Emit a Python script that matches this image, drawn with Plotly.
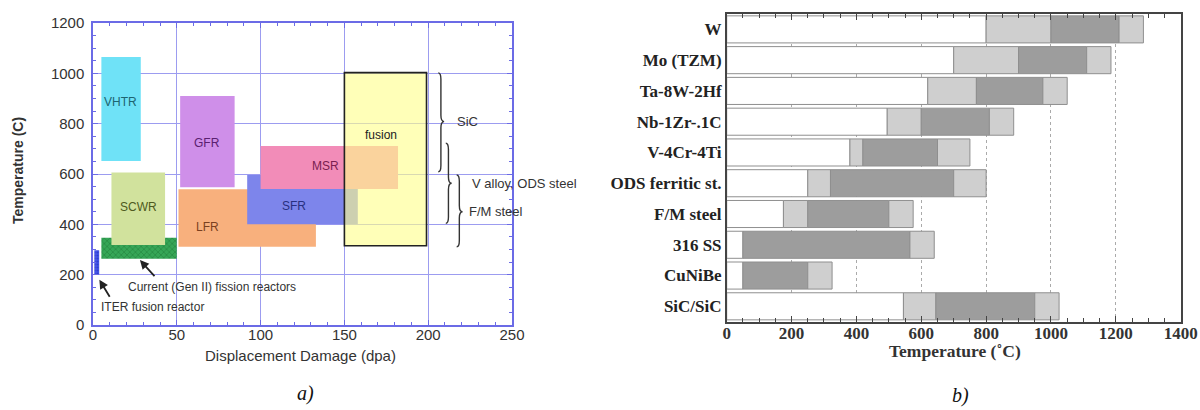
import plotly.graph_objects as go

# ---------------- (a) reactor operating windows ----------------
reactors = ["Gen II", "ITER", "VHTR", "SCWR", "GFR", "LFR", "SFR", "MSR", "fusion"]
dpa_lo = [5, 0.8, 5, 11, 52, 51, 92, 100, 150]
dpa_hi = [50, 3.7, 28.5, 43, 84.5, 133, 158, 182, 199]
temp_lo = [263, 200, 652, 318, 547, 311, 400, 540, 315]
temp_hi = [347, 297, 1065, 606, 910, 539, 596, 711, 1003]
fill_colors = ["#2f9b4f", "#3a48e0", "#6fe2f7", "#d1e29d", "#cf8fe9",
               "#f8b07d", "#7d85eb", "#f28cb8", "rgba(255,255,140,0.62)"]

box_labels = ["VHTR", "GFR", "SCWR", "LFR", "SFR", "MSR", "fusion"]
box_label_x = [16.5, 68, 27, 68.5, 120, 139, 172]
box_label_y = [885, 725, 470, 390, 473, 633, 755]
box_label_colors = ["#1d6470", "#5a2070", "#4e5a20", "#7a4020", "#283080", "#7a2050", "#222222"]

brace_names = ["SiC", "V alloy, ODS steel", "F/M steel"]
brace_x = [206, 210.5, 217]
brace_tip_x = [209.5, 214, 220.5]
brace_lo = [609, 404, 311]
brace_hi = [1002, 722, 596]
brace_tip = [808, 563, 450]
brace_text_x = [216, 225, 223]

# ---------------- (b) material temperature windows ----------------
materials = ["W", "Mo (TZM)", "Ta-8W-2Hf", "Nb-1Zr-.1C", "V-4Cr-4Ti",
             "ODS ferritic st.", "F/M steel", "316 SS", "CuNiBe", "SiC/SiC"]
white_end = [800, 700, 620, 495, 380, 250, 175, 50, 50, 545]
light1_end = [1000, 900, 770, 600, 420, 320, 250, 50, 50, 645]
dark_end = [1210, 1110, 975, 810, 650, 700, 500, 565, 250, 950]
light2_end = [1285, 1185, 1050, 885, 750, 800, 575, 640, 325, 1025]

fig = go.Figure()

# left rectangles as bars with explicit base
for i, name in enumerate(reactors):
    pattern = None
    if name == "Gen II":
        pattern = dict(shape="x", fgcolor="#17702f", bgcolor="#36a657", size=4, solidity=0.35)
    elif name == "ITER":
        pattern = dict(shape=".", fgcolor="#1c2aa8", bgcolor="#4454ea", size=3, solidity=0.4)
    line = dict(width=1.6, color="#222222") if name == "fusion" else dict(width=0)
    fig.add_trace(go.Bar(
        x=[(dpa_lo[i] + dpa_hi[i]) / 2], y=[temp_hi[i] - temp_lo[i]], base=[temp_lo[i]],
        width=[dpa_hi[i] - dpa_lo[i]],
        marker=dict(color=fill_colors[i], line=line, pattern=pattern),
        xaxis="x", yaxis="y", name=name, hoverinfo="skip"))

# right stacked segments
def seg(a, b):
    return [(bb - aa) if bb - aa > 0 else None for aa, bb in zip(a, b)]

segments = [
    ([0] * len(materials), seg([0] * len(materials), white_end), "#ffffff"),
    (white_end, seg(white_end, light1_end), "#cfcfcf"),
    (light1_end, seg(light1_end, dark_end), "#9d9d9d"),
    (dark_end, seg(dark_end, light2_end), "#cfcfcf"),
]
for base, length, col in segments:
    fig.add_trace(go.Bar(
        y=materials, x=length, base=base, orientation="h", width=0.88,
        marker=dict(color=col, line=dict(color="#8f8f8f", width=1)),
        xaxis="x2", yaxis="y2", hoverinfo="skip"))

annotations = []
for t, x, y, c in zip(box_labels, box_label_x, box_label_y, box_label_colors):
    annotations.append(dict(x=x, y=y, xref="x", yref="y", text=t, showarrow=False,
                            font=dict(family="Liberation Sans", size=12, color=c)))

# pointer annotations
annotations.append(dict(x=71, y=152, xref="x", yref="y", text="Current (Gen II) fission reactors",
                        showarrow=False, font=dict(family="Liberation Sans", size=12, color="#333")))
annotations.append(dict(x=28, y=258, ax=37.5, ay=188, xref="x", yref="y", axref="x", ayref="y",
                        text="", showarrow=True, arrowhead=2, arrowsize=1, arrowwidth=1.8,
                        arrowcolor="#222"))
annotations.append(dict(x=3.5, y=70, xref="x", yref="y", text="ITER fusion reactor",
                        showarrow=False, xanchor="left",
                        font=dict(family="Liberation Sans", size=12, color="#333")))
annotations.append(dict(x=3.8, y=180, ax=10.5, ay=106, xref="x", yref="y", axref="x", ayref="y",
                        text="", showarrow=True, arrowhead=2, arrowsize=1, arrowwidth=1.8,
                        arrowcolor="#222"))

for t, x, y in zip(brace_names, brace_text_x, brace_tip):
    annotations.append(dict(x=x, y=y, xref="x", yref="y", text=t, showarrow=False,
                            xanchor="left", font=dict(family="Liberation Sans", size=13, color="#333")))

# axis titles and panel letters (paper coordinates, explicit centre anchors)
def paper_text(px, py, text, font, angle=0):
    return dict(x=px / 1200, y=1 - py / 410, xref="paper", yref="paper", text=text,
                xanchor="center", yanchor="middle", textangle=angle, showarrow=False, font=font)

annotations += [
    paper_text(300, 355, "Displacement Damage (dpa)",
               dict(family="Liberation Sans", size=15, color="#333")),
    paper_text(18, 171, "<b>Temperature (C)</b>",
               dict(family="Liberation Sans", size=14, color="#333"), angle=-90),
    paper_text(955, 351, "<b>Temperature (˚C)</b>",
               dict(family="Liberation Serif", size=17.5, color="#333")),
    paper_text(305, 393, "<i>a)</i>", dict(family="Liberation Serif", size=20, color="#111")),
    paper_text(960, 395, "<i>b)</i>", dict(family="Liberation Serif", size=20, color="#111")),
]

shapes = []
for x0, xt, lo, hi, tip in zip(brace_x, brace_tip_x, brace_lo, brace_hi, brace_tip):
    xm = x0 + (xt - x0) * 0.45
    r = 25
    path = (f"M {x0},{hi} Q {xm},{hi} {xm},{hi - r} L {xm},{tip + r} "
            f"Q {xm},{tip} {xt},{tip} Q {xm},{tip} {xm},{tip - r} "
            f"L {xm},{lo + r} Q {xm},{lo} {x0},{lo}")
    shapes.append(dict(type="path", path=path, xref="x", yref="y",
                       line=dict(color="#333", width=1.4)))

blue_axis = "#6b6be6"
fig.update_layout(
    width=1200, height=410, margin=dict(l=0, r=0, t=0, b=0, autoexpand=False),
    paper_bgcolor="white", plot_bgcolor="white", showlegend=False, barmode="overlay",
    annotations=annotations, shapes=shapes,
    xaxis=dict(domain=[93 / 1200, 512 / 1200], range=[0, 250], dtick=50, tick0=0,
               automargin=False, ticklabelstandoff=-5,
               showline=True, mirror="ticks", linecolor=blue_axis, linewidth=1.5,
               ticks="inside", ticklen=5, tickcolor=blue_axis,
               minor=dict(dtick=10, ticks="inside", ticklen=3, tickcolor=blue_axis, showgrid=False),
               showgrid=True, gridcolor="#9c9cf0", gridwidth=1, zeroline=False,
               tickfont=dict(family="Liberation Sans", size=15, color="#333")),
    yaxis=dict(domain=[1 - 325 / 410, 1 - 23 / 410], range=[0, 1200], dtick=200, tick0=0,
               automargin=False, ticklabelstandoff=4,
               showline=True, mirror="ticks", linecolor=blue_axis, linewidth=1.5,
               ticks="inside", ticklen=5, tickcolor=blue_axis,
               minor=dict(dtick=50, ticks="inside", ticklen=3, tickcolor=blue_axis, showgrid=False),
               showgrid=True, gridcolor="#9c9cf0", gridwidth=1, zeroline=False,
               tickfont=dict(family="Liberation Sans", size=15, color="#333")),
    xaxis2=dict(domain=[726.7 / 1200, 1180.7 / 1200], range=[0, 1400], dtick=200, tick0=0,
                anchor="y2", automargin=False, ticklabelstandoff=-5,
                showline=True, mirror="ticks", linecolor="#444", linewidth=1.5,
                ticks="inside", ticklen=6, tickcolor="#444",
                minor=dict(dtick=50, ticks="inside", ticklen=4, tickcolor="#444", showgrid=False),
                showgrid=True, gridcolor="#aaaaaa", griddash="dot", gridwidth=1, zeroline=False,
                tickfont=dict(family="Liberation Serif", size=17, color="#333", weight="bold")),
    yaxis2=dict(domain=[1 - 321.7 / 410, 1 - 14 / 410], anchor="x2", type="category",
                automargin=False,
                categoryorder="array", categoryarray=materials, range=[9.5, -0.5],
                showline=True, mirror=True, linecolor="#444", linewidth=1.5,
                ticks="", showgrid=False, zeroline=False,
                tickfont=dict(family="Liberation Serif", size=17, color="#222", weight="bold")),
)

fig.write_html("out.html", config={"displayModeBar": False},
               post_script="document.body.style.margin='0px';")
